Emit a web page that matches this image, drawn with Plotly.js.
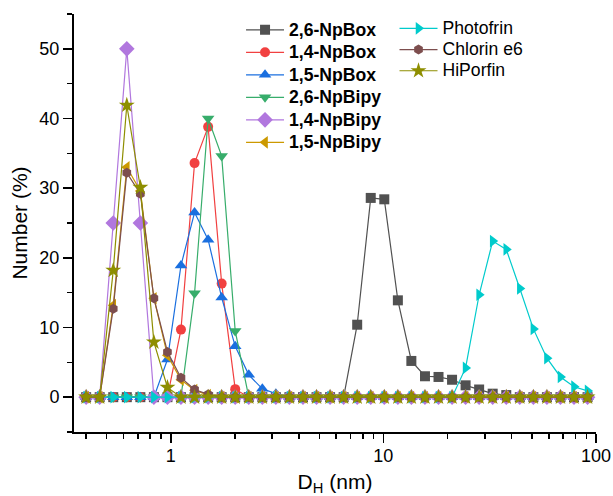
<!DOCTYPE html>
<html>
<head>
<meta charset="utf-8">
<script src="https://cdn.plot.ly/plotly-3.0.1.min.js"></script>
<style>html,body{margin:0;padding:0;background:#fff;}#chart{width:613px;height:496px;}</style>
</head>
<body>
<div id="chart"></div>
<script>
// Hydrodynamic diameter classes (nm)
const diameters = [0.4, 0.4632, 0.5365, 0.6213, 0.7195, 0.8332, 0.9649, 1.117, 1.294, 1.499,
  1.736, 2.01, 2.328, 2.696, 3.122, 3.615, 4.187, 4.849, 5.615, 6.503,
  7.531, 8.721, 10.1, 11.7, 13.54, 15.69, 18.17, 21.04, 24.36, 28.21,
  32.67, 37.84, 43.82, 50.75, 58.77, 68.06, 78.82, 91.28];

// Number (%) per class
const np26Box  = [0,0,0,0,0,0,0,0,0,0, 0,0,0,0,0,0,0,0,0,0, 10.4,28.6,28.4,13.9,5.2,3.0,2.9,2.5,1.7,1.1, 0.5,0.3,0,0,0,0,0,0];
const np14Box  = [0,0,0,0,0,0,0,9.7,33.6,38.8, 16.3,1.15,0,0,0,0,0,0,0,0, 0,0,0,0,0,0,0,0,0,0, 0,0,0,0,0,0,0,0];
const np15Box  = [0,0,0,0,0,0,5.4,18.9,26.5,22.6, 14.3,7.3,3.2,1.2,0.5,0,0,0,0,0, 0,0,0,0,0,0,0,0,0,0, 0,0,0,0,0,0,0,0];
const np26Bipy = [0,0,0,0,0,0,0,0,14.9,40.0, 34.6,9.5,0,0,0,0,0,0,0,0, 0,0,0,0,0,0,0,0,0,0, 0,0,0,0,0,0,0,0];
const np14Bipy = [0,0,25,50,25,0,0,0,0,0, 0,0,0,0,0,0,0,0,0,0, 0,0,0,0,0,0,0,0,0,0, 0,0,0,0,0,0,0,0];
const np15Bipy = [0,0,13.2,33.0,29.6,14.2,6.0,2.5,1.0,0.3, 0,0,0,0,0,0,0,0,0,0, 0,0,0,0,0,0,0,0,0,0, 0,0,0,0,0,0,0,0];
const photofrin = [0,0,0,0,0,0,0,0,0,0, 0,0,0,0,0,0,0,0,0,0, 0,0,0,0,0,0,0,0,4.2,14.7, 22.4,21.2,15.6,9.8,5.6,2.9,1.5,0.9];
const chlorinE6 = [0,0,12.7,32.2,29.2,14.2,6.5,2.8,1.1,0.4, 0,0,0,0,0,0,0,0,0,0, 0,0,0,0,0,0,0,0,0,0, 0,0,0,0,0,0,0,0];
const hiPorfin  = [0,0,18.2,41.9,30.1,7.9,1.4,0,0,0, 0,0,0,0,0,0,0,0,0,0, 0,0,0,0,0,0,0,0,0,0, 0,0,0,0,0,0,0,0];

const seriesNames = ['2,6-NpBox','1,4-NpBox','1,5-NpBox','2,6-NpBipy','1,4-NpBipy','1,5-NpBipy','Photofrin','Chlorin e6','HiPorfin'];
const seriesData = [np26Box, np14Box, np15Box, np26Bipy, np14Bipy, np15Bipy, photofrin, chlorinE6, hiPorfin];
const colors = ['#515151','#F14040','#1A6FDF','#37AD6B','#B177DE','#CC9900','#00CBCC','#7D4E4E','#8E8E00'];
const symbols = ['square','circle','triangle-up','triangle-down','diamond','triangle-left','triangle-right','hexagon','star'];
const sizes = [10,10,11,11,12,11,11,10,12];

const xMajor = [1, 10, 100];
const xMajorText = ['1', '10', '100'];
const xMinor = [0.4,0.5,0.6,0.7,0.8,0.9,2,3,4,5,6,7,8,9,20,30,40,50,60,70,80,90];
const yMajor = [0, 10, 20, 30, 40, 50];

const FONT = 'Liberation Sans, Arial, sans-serif';
const LEG_TEXT = 'font-size:17.6px';

const traces = seriesData.map((ys, i) => ({
  x: diameters,
  y: ys,
  type: 'scatter',
  mode: 'lines+markers',
  name: i < 6
    ? '<b><span style="' + LEG_TEXT + '">' + seriesNames[i] + '</span></b>'
    : '<span style="' + LEG_TEXT + '">' + seriesNames[i] + '</span>',
  legend: i < 6 ? 'legend' : 'legend2',
  line: {color: colors[i], width: 1.2},
  marker: {symbol: symbols[i], size: sizes[i], color: colors[i], line: {width: 0}}
}));

const layout = {
  width: 613, height: 496,
  margin: {l: 74, r: 17, t: 14, b: 64},
  paper_bgcolor: '#fff', plot_bgcolor: '#fff',
  font: {family: FONT, color: '#000', size: 18},
  xaxis: {
    type: 'log', range: [-0.455, 2.0],
    tickmode: 'array', tickvals: xMajor, ticktext: xMajorText,
    ticks: 'outside', ticklen: 9, tickwidth: 1.5, tickcolor: '#000',
    ticklabelstandoff: -3,
    showline: true, linecolor: '#000', linewidth: 2,
    showgrid: false, zeroline: false,
    tickfont: {size: 18},
    minor: {tickmode: 'array', tickvals: xMinor, ticks: 'outside', ticklen: 5, tickwidth: 1.5, tickcolor: '#000', showgrid: false},
    title: {text: 'D<sub>H</sub> (nm)', font: {size: 21}, standoff: 13},
    automargin: false
  },
  yaxis: {
    range: [-5, 55],
    tickmode: 'array', tickvals: yMajor,
    ticks: 'outside', ticklen: 9, tickwidth: 1.5, tickcolor: '#000',
    showline: true, linecolor: '#000', linewidth: 2,
    showgrid: false, zeroline: false,
    tickfont: {size: 18},
    minor: {dtick: 5, tick0: 0, ticks: 'outside', ticklen: 5, tickwidth: 1.5, tickcolor: '#000', showgrid: false},
    title: {text: 'Number (%)', font: {size: 21}, standoff: 6},
    automargin: false
  },
  legend: {
    x: 0.32, y: 1.001, xanchor: 'left', yanchor: 'top',
    bgcolor: 'rgba(0,0,0,0)', borderwidth: 0,
    font: {size: 15, family: FONT}, itemwidth: 38, tracegroupgap: 0
  },
  legend2: {
    x: 0.614, y: 1.003, xanchor: 'left', yanchor: 'top',
    bgcolor: 'rgba(0,0,0,0)', borderwidth: 0,
    font: {size: 14, family: FONT}, itemwidth: 38, tracegroupgap: 0
  },
  showlegend: true
};

Plotly.newPlot('chart', traces, layout, {displayModeBar: false, staticPlot: true});
</script>
</body>
</html>
